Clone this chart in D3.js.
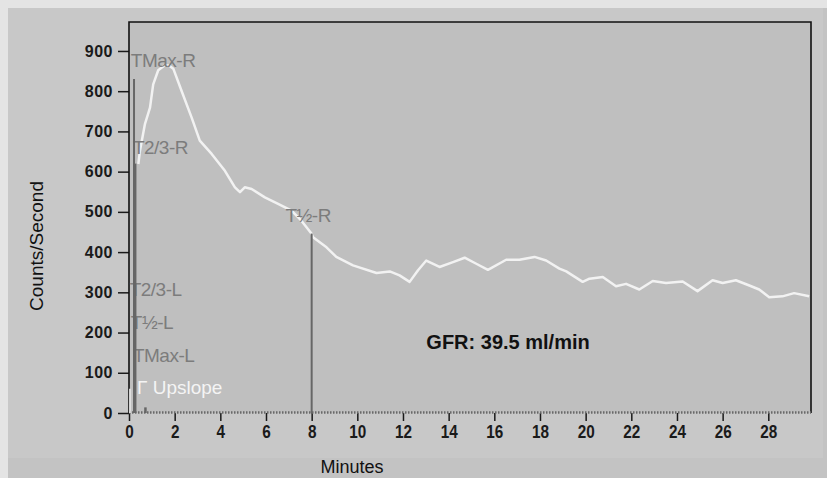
<!DOCTYPE html>
<html>
<head>
<meta charset="utf-8">
<script src="https://cdn.jsdelivr.net/npm/d3@7"></script>
<style>
    body { margin: 0; background: #e2e2e2; }
    svg { display: block; font-family: "Liberation Sans", Arial, sans-serif; }
    .axis path.domain { display: none; }
    .axis line { stroke: #1a1a1a; stroke-width: 1.5; }
    .axis text { fill: #1a1a1a; font-weight: bold; }
    .axis-y text { font-size: 16px; letter-spacing: 0.5px; }
    .axis-x text { font-size: 18px; }
    .curve { fill: none; stroke: #f2f2f2; stroke-width: 2.5; stroke-linejoin: round; }
    .marker { stroke: #666; }
    .note { fill: #7c7c7c; font-size: 19px; letter-spacing: -0.5px; }
</style>
</head>
<body>
<div id="chart" style="width:827px;height:478px"></div>
<script>
// renogram, right kidney counts (white curve)
const minutes = [0.41, 0.48, 0.70, 0.92, 1.06, 1.28, 1.55, 1.75, 1.94, 2.30, 2.74, 3.10, 3.62, 4.20, 4.64, 4.86,
    5.07, 5.37, 5.95, 6.53, 7.12, 7.55, 7.99, 8.06, 8.65, 9.08, 9.81, 10.84, 11.42, 11.85, 12.29, 12.66,
    13.02, 13.60, 14.19, 14.70, 15.21, 15.72, 16.52, 17.10, 17.76, 18.27, 18.85, 19.15, 19.87, 20.17,
    20.75, 21.33, 21.77, 22.35, 22.94, 23.52, 24.25, 24.90, 25.56, 26.00, 26.58, 27.17, 27.60, 28.04,
    28.62, 29.13, 29.79];
const counts = [619, 652, 719, 759, 817, 852, 864, 864, 856, 801, 735, 677, 644, 602, 561, 549,
    561, 557, 536, 520, 503, 478, 446, 437, 412, 388, 367, 348, 352, 342, 326, 355,
    379, 363, 375, 386, 371, 356, 381, 381, 388, 379, 359, 352, 326, 334,
    338, 315, 321, 307, 328, 323, 327, 303, 330, 323, 330, 317, 307, 288,
    290, 298, 290];

// vertical marker lines: time, height
const markerMinutes = [0.22, 0.26, 8.0, 0.72];
const markerCounts = [830, 620, 446, 14];
const markerWidths = [2, 3, 2, 2.5];

// annotation labels, anchored in data units
const noteTexts = ['TMax-R', 'T2/3-R', 'T½-R', 'T2/3-L', 'T½-L', 'TMax-L'];
const noteMinutes = [0.08, 0.17, 6.85, 0.03, 0.08, 0.17];
const noteCounts = [859, 645, 474, 292, 210, 127];

const xTicks = d3.range(0, 29, 2);
const yTicks = d3.range(0, 901, 100);
const xMax = 29.87, yMax = 972;

class Renogram {
    constructor({wrapper, padding: {top = 22, right = 16, bottom = 65, left = 129} = {}}) {
        this.wrapper = wrapper;
        this.padding = {top, right, bottom, left};
        this.data = minutes.map((m, i) => ({x: m, y: counts[i]}));
        this.markers = markerMinutes.map((m, i) => ({x: m, y: markerCounts[i], w: markerWidths[i]}));
        this.notes = noteTexts.map((t, i) => ({text: t, x: noteMinutes[i], y: noteCounts[i]}));
        this.initChart();
    }

    initChart() {
        let width = 827, height = 478;
        this.width = width - this.padding.left - this.padding.right;
        this.height = height - this.padding.top - this.padding.bottom;

        this.svg = d3.select(this.wrapper).append('svg')
            .attr('width', width)
            .attr('height', height);

        // photo-ish backdrop
        this.svg.append('rect').attr('width', width).attr('height', height).attr('fill', '#e4e4e4');
        this.svg.append('rect').attr('x', 8).attr('y', 8).attr('width', width - 8).attr('height', height - 8).attr('fill', '#c3c3c3');
        this.svg.append('rect').attr('x', 8).attr('y', 8).attr('width', width - 12).attr('height', 450).attr('fill', '#c8c8c8');

        this.xScale = d3.scaleLinear().domain([0, xMax]).range([0, this.width]);
        this.yScale = d3.scaleLinear().domain([0, yMax]).range([this.height, 0]);

        this.focus = this.svg.append('g')
            .attr('transform', `translate(${this.padding.left}, ${this.padding.top})`);

        this.focus.append('rect')
            .attr('width', this.width)
            .attr('height', this.height)
            .attr('fill', '#bfbfbf');

        this.draw();
    }

    draw() {
        let x = this.xScale, y = this.yScale;

        let yAxis = d3.axisLeft(y).tickValues(yTicks).tickSizeOuter(0).tickSizeInner(11).tickPadding(5);
        this.focus.append('g').attr('class', 'axis axis-y').call(yAxis);

        let xAxis = d3.axisBottom(x).tickValues(xTicks).tickSizeOuter(0).tickSizeInner(8).tickPadding(4);
        this.focus.append('g')
            .attr('class', 'axis axis-x')
            .attr('transform', `translate(0, ${this.height})`)
            .call(xAxis)
            .selectAll('text')
            .attr('transform', 'scale(0.85,1)');

        // frame: black top/left/right, ragged grey baseline
        this.focus.append('path')
            .attr('d', `M0,${y(0)}V0H${x(xMax)}V${y(0)}`)
            .attr('fill', 'none')
            .attr('stroke', '#111')
            .attr('stroke-width', 1.6);
        this.focus.append('line')
            .attr('x1', 0).attr('x2', x(xMax))
            .attr('y1', y(1)).attr('y2', y(1))
            .attr('stroke', '#6a6a6a')
            .attr('stroke-width', 2.5)
            .attr('stroke-dasharray', '1.5,1.5');

        let line = d3.line()
            .x(d => x(d.x))
            .y(d => y(d.y))
            .curve(d3.curveLinear);
        this.focus.append('path')
            .datum(this.data)
            .attr('class', 'curve')
            .attr('d', line);

        this.focus.append('g').selectAll('text')
            .data(this.notes)
            .enter()
            .append('text')
            .attr('class', 'note')
            .attr('x', d => x(d.x))
            .attr('y', d => y(d.y))
            .text(d => d.text);

        this.focus.append('g').selectAll('line')
            .data(this.markers)
            .enter()
            .append('line')
            .attr('class', 'marker')
            .attr('x1', d => x(d.x)).attr('x2', d => x(d.x))
            .attr('y1', y(0)).attr('y2', d => y(d.y))
            .attr('stroke-width', d => d.w);

        // upslope marker (white)
        this.focus.append('line')
            .attr('x1', x(0.04)).attr('x2', x(0.04))
            .attr('y1', y(0)).attr('y2', y(60))
            .attr('stroke', '#f0f0f0')
            .attr('stroke-width', 1.5);
        this.focus.append('text')
            .attr('x', x(0.35))
            .attr('y', y(47))
            .attr('fill', '#f4f4f4')
            .style('font-size', '19px')
            .text('Γ Upslope');

        this.focus.append('text')
            .attr('x', x(16.6))
            .attr('y', y(160))
            .attr('text-anchor', 'middle')
            .attr('fill', '#111')
            .style('font-size', '20px')
            .style('font-weight', 'bold')
            .text('GFR: 39.5 ml/min');

        this.svg.append('text')
            .attr('x', 352)
            .attr('y', 473)
            .attr('text-anchor', 'middle')
            .attr('fill', '#111')
            .style('font-size', '18px')
            .text('Minutes');

        this.svg.append('text')
            .attr('transform', 'translate(43, 246) rotate(-90)')
            .attr('text-anchor', 'middle')
            .attr('fill', '#111')
            .style('font-size', '19px')
            .text('Counts/Second');
    }
}

new Renogram({wrapper: document.getElementById('chart')});
</script>
</body>
</html>
